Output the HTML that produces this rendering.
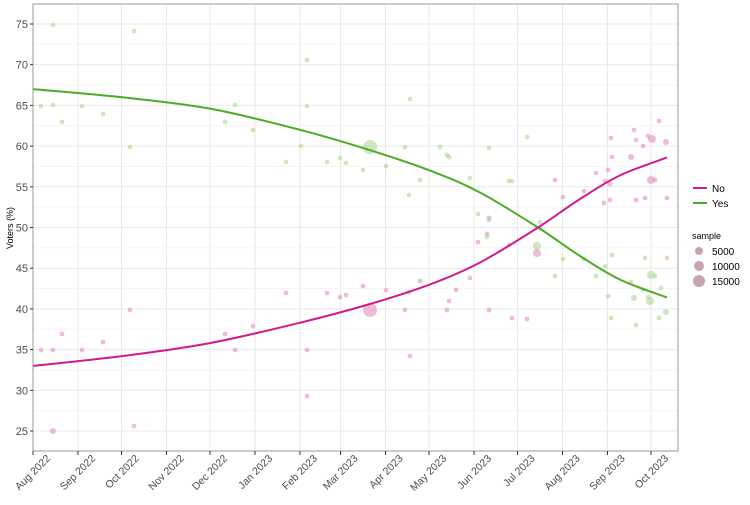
<!DOCTYPE html>
<html><head><style>
body{margin:0;background:#fff;font-family:"Liberation Sans",sans-serif;}
</style></head><body>
<svg width="750" height="500" xmlns="http://www.w3.org/2000/svg" font-family="Liberation Sans, sans-serif">
<rect x="33" y="4" width="645" height="447" fill="#fff"/>
<g id="grid" stroke="#ebebeb" stroke-width="1"></g>
<g id="pts"></g>
<path id="yes" fill="none" stroke="#4dac26" stroke-width="2"/>
<path id="no" fill="none" stroke="#d01c8b" stroke-width="2"/>
<rect x="33" y="4" width="645" height="447" fill="none" stroke="#999" stroke-width="1"/>
<g id="axis" font-size="11" fill="#4d4d4d"></g>
<text transform="translate(13,228) rotate(-90)" text-anchor="middle" font-size="9" fill="#000">Voters (%)</text>
<line x1="693" y1="188" x2="707" y2="188" stroke="#d01c8b" stroke-width="2"/>
<text x="712" y="192" font-size="10">No</text>
<line x1="693" y1="203" x2="707" y2="203" stroke="#4dac26" stroke-width="2"/>
<text x="712" y="207" font-size="10">Yes</text>
<text x="692" y="239" font-size="9">sample</text>
<circle cx="699" cy="251" r="4" fill="#c8a4ad"/><text x="712" y="255" font-size="10">5000</text>
<circle cx="699" cy="266" r="5" fill="#c8a4ad"/><text x="712" y="270" font-size="10">10000</text>
<circle cx="699" cy="281" r="6" fill="#c8a4ad"/><text x="712" y="285" font-size="10">15000</text>
</svg>
<script>
const ns="http://www.w3.org/2000/svg";
function el(p,t,a){const e=document.createElementNS(ns,t);for(const k in a)e.setAttribute(k,a[k]);p.appendChild(e);return e;}
const Y=v=>431-(v-25)*8.14;
const g=document.getElementById('grid'),ax=document.getElementById('axis');
for(let v=22.5;v<=77.5;v+=2.5){const y=Y(v);if(y<4||y>451)continue;el(g,'line',{x1:33,x2:678,y1:y,y2:y,stroke:v%5?'#f5f5f5':'#e9e9e9'});
if(v%5==0){el(ax,'line',{x1:30,x2:33,y1:y,y2:y,stroke:'#333'});const t=el(ax,'text',{x:28,y:y+4,'text-anchor':'end'});t.textContent=v;}}
const months=["Aug 2022","Sep 2022","Oct 2022","Nov 2022","Dec 2022","Jan 2023","Feb 2023","Mar 2023","Apr 2023","May 2023","Jun 2023","Jul 2023","Aug 2023","Sep 2023","Oct 2023"];
const days=[0,31,61,92,122,153,184,212,243,273,304,334,365,396,426];
days.forEach((d,i)=>{const x=33+d*1.4507;el(g,'line',{x1:x,x2:x,y1:4,y2:451,stroke:'#e9e9e9'});
el(ax,'line',{x1:x,x2:x,y1:451,y2:455,stroke:'#333'});
const ex=x+18,ey=459;
const t=el(ax,'text',{x:ex,y:ey,'text-anchor':'end',transform:`rotate(-45 ${ex} ${ey})`,'font-size':'10.5'});t.textContent=months[i];});
const yes=[[33,67],[122,66],[210,64.6],[300,62],[370,59.5],[430,57],[480,54.3],[538,50],[580,46.5],[620,43.6],[667,41.4]];
const no=[[33,33],[122,34.2],[210,35.8],[300,38.3],[370,40.6],[430,43],[480,45.7],[538,50],[580,53.5],[620,56.4],[667,58.6]];
function path(p){p=p.map(a=>[a[0],Y(a[1])]);let d=`M${p[0][0]},${p[0][1]}`;for(let i=0;i<p.length-1;i++){const p0=p[Math.max(0,i-1)],p1=p[i],p2=p[i+1],p3=p[Math.min(p.length-1,i+2)];
d+=` C${p1[0]+(p2[0]-p0[0])/6},${p1[1]+(p2[1]-p0[1])/6} ${p2[0]-(p3[0]-p1[0])/6},${p2[1]-(p3[1]-p1[1])/6} ${p2[0]},${p2[1]}`;}return d;}
document.getElementById('yes').setAttribute('d',path(yes));
document.getElementById('no').setAttribute('d',path(no));
const P=document.getElementById('pts');
const noP=[[41,350],[53,350],[62,334],[53,431,3],[82,350],[103,342],[130,310],[134,426],[225,334],[235,350],[253,326],[286,293],[307,350],[307,396],[327,293],[340,297],[346,295],[363,286],[370,310,7],[386,290],[405,310],[409,292],[410,356],[420,281],[447,310],[449,301],[456,290],[470,278],[489,310],[478,242],[487,234],[489,218],[509,245],[512,318],[527,319],[537,253,4],[540,228],[555,180],[563,197],[584,191],[596,173],[605,181],[608,170],[610,200],[611,138],[612,157],[631,157,3],[634,130],[636,140],[643,146],[648,136],[651,180,4],[655,180],[652,139,4],[659,121],[666,142,3],[667,198],[645,198],[636,200],[604,203],[610,184]];
const yesP=[[41,106],[53,25],[53,105],[62,122],[82,106],[103,114],[130,147],[134,31],[225,122],[235,105],[253,130],[286,162],[301,146],[307,60],[307,106],[327,162],[340,158],[346,163],[363,170],[370,147,7],[386,166],[405,147],[409,195],[410,99],[420,180],[440,147],[447,155],[449,157],[470,178],[478,214],[487,237],[489,220],[489,148],[509,181],[512,181],[527,137],[537,246,4],[540,222],[555,276],[563,259],[584,259],[596,276],[605,266],[608,296],[611,318],[612,255],[631,282],[634,298,3],[636,325],[643,290],[648,297],[651,275,4],[655,276],[659,318],[666,312,3],[667,258],[645,258],[650,301,4],[661,288]];
noP.forEach(p=>el(P,'circle',{cx:p[0],cy:p[1],r:p[2]||2.4,fill:'#e38fbd','fill-opacity':0.6}));
yesP.forEach(p=>el(P,'circle',{cx:p[0],cy:p[1],r:p[2]||2.4,fill:'#a6d38a','fill-opacity':0.55}));
</script>
</body></html>
